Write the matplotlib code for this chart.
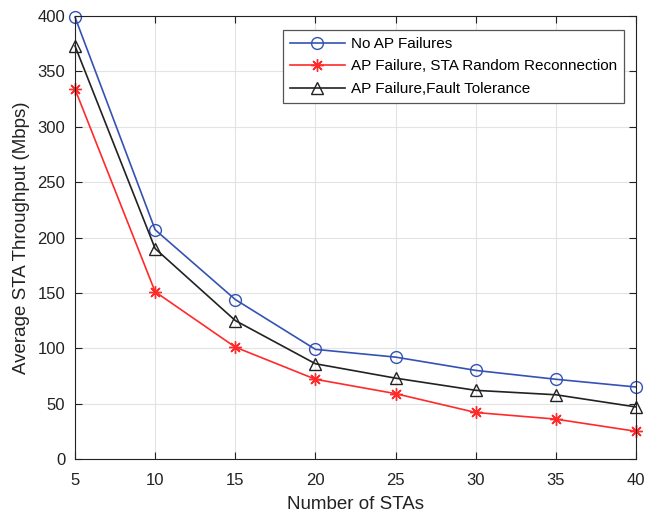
import matplotlib
matplotlib.use('Agg')
import matplotlib.pyplot as plt

plt.rcParams['font.family'] = ['Liberation Sans', 'DejaVu Sans']

stas = [5, 10, 15, 20, 25, 30, 35, 40]
no_failure = [399, 207, 144, 99, 92, 80, 72, 65]
random_reconn = [334, 151, 101, 72, 59, 42, 36, 25]
fault_tol = [373, 190, 125, 86, 73, 62, 58, 47]

fig = plt.figure(figsize=(6.46, 5.12), dpi=100)
ax = fig.add_axes([75 / 646, 53 / 512, 561 / 646, 443 / 512])

ax.plot(stas, no_failure, color='#3452b4', marker='o', markersize=8.5,
        markerfacecolor='none', linewidth=1.2, label='No AP Failures',
        clip_on=False)
ax.plot(stas, random_reconn, color='#ff2a2a', marker=(8, 2, 0), markersize=9,
        markeredgewidth=1.0, linewidth=1.2,
        label='AP Failure, STA Random Reconnection', clip_on=False)
ax.plot(stas, fault_tol, color='#222222', marker='^', markersize=9,
        markerfacecolor='none', linewidth=1.2, label='AP Failure,Fault Tolerance',
        clip_on=False)

ax.set_xlim(5, 40)
ax.set_ylim(0, 400)
ax.set_xticks(range(5, 41, 5))
ax.set_yticks(range(0, 401, 50))
ax.grid(True, color='#e3e3e3', linewidth=0.8)
ax.set_axisbelow(True)
ax.tick_params(direction='in', top=True, right=True, labelsize=12, length=5,
               colors='#222222')
ax.tick_params(axis='x', pad=10)
ax.tick_params(axis='y', pad=7)
for s in ax.spines.values():
    s.set_color('#222222')
    s.set_linewidth(0.8)

ax.set_xlabel('Number of STAs', fontsize=13.5, color='#222222', labelpad=6)
ax.set_ylabel('Average STA Throughput (Mbps)', fontsize=13.5, color='#222222',
              labelpad=5)

leg = ax.legend(loc='upper right', bbox_to_anchor=(0.978, 0.968), fontsize=11,
                fancybox=False, framealpha=1, edgecolor='#555555',
                handlelength=3.6, handletextpad=0.4, borderpad=0.45,
                labelspacing=0.55, borderaxespad=0)
leg.get_frame().set_linewidth(0.9)

plt.savefig('out.png', dpi=100)
plt.close()
